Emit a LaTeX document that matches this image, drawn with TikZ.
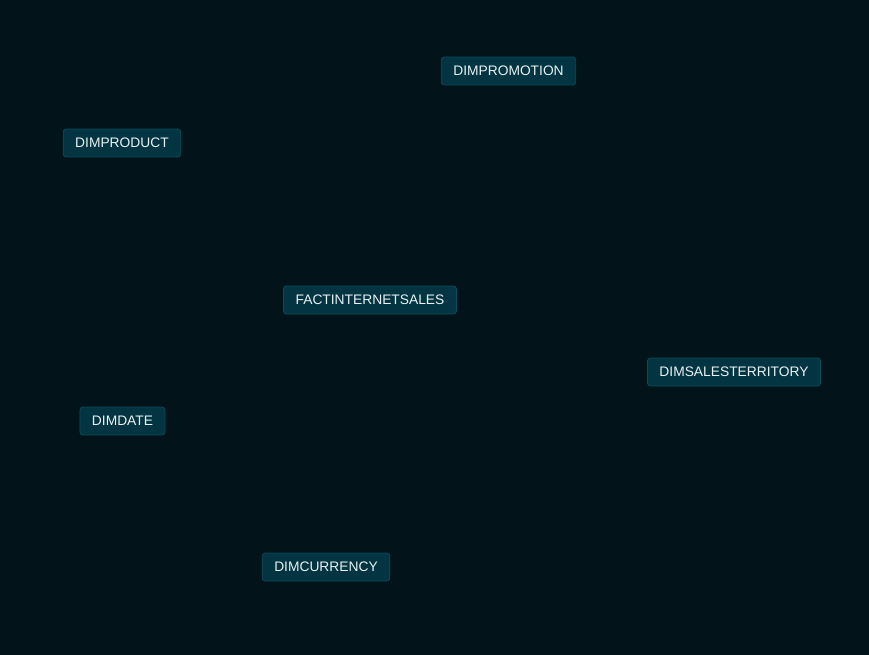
\documentclass[tikz,border=0pt]{standalone}
\usepackage{fontspec}
\setmainfont{Liberation Sans}
\usetikzlibrary{positioning}

\definecolor{bgcol}{HTML}{02131A}
\definecolor{tablefill}{HTML}{023441}
\definecolor{tableline}{HTML}{0F4A58}
\definecolor{tabletext}{HTML}{EAF2F4}

\begin{document}
\begin{tikzpicture}[
  x=1pt, y=-1pt,
  font=\fontsize{13.8}{16}\selectfont,
  table/.style={draw=tableline, fill=tablefill, text=tabletext, rounded corners=3pt,
    line width=0.8pt, inner xsep=12pt, minimum height=28pt, anchor=center}
]
  \fill[bgcol] (0,0) rectangle (869,655);
  \useasboundingbox (0,0) rectangle (869,655);

  \node[table] (promotion) at (508.5,71) {DIMPROMOTION};
  \node[table] (product) at (122,143) {DIMPRODUCT};
  \node[table] (fact) at (370,300) {FACTINTERNETSALES};
  \node[table] (territory) at (734,372) {DIMSALESTERRITORY};
  \node[table] (date) at (122.5,421) {DIMDATE};
  \node[table] (currency) at (326,567) {DIMCURRENCY};
\end{tikzpicture}
\end{document}
